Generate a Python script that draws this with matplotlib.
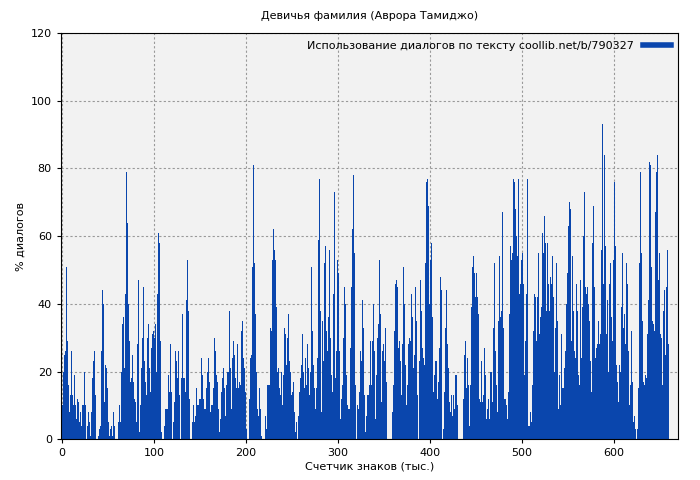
import matplotlib
matplotlib.use('Agg')
import matplotlib.pyplot as plt
import numpy as np

title = 'Девичья фамилия (Аврора Тамиджо)'
x_label = 'Счетчик знаков (тыс.)'
y_label = '% диалогов'
legend_label = 'Использование диалогов по тексту coollib.net/b/790327'
x_max = 660

# % of dialogue per chunk left to right
dialog_pct = [
    10, 20, 25, 26, 51, 29, 16, 8, 13, 26, 13, 10, 19, 10, 6, 12, 11, 5, 8, 4,
    10, 10, 20, 10, 0, 4, 8, 5, 1, 8, 18, 23, 26, 13, 0, 0, 1, 3, 4, 26,
    44, 40, 11, 22, 21, 15, 5, 1, 3, 4, 1, 8, 4, 0, 0, 0, 5, 10, 5, 20,
    34, 36, 21, 43, 79, 64, 40, 29, 17, 18, 25, 17, 12, 11, 5, 28, 47, 2, 10, 21,
    30, 45, 23, 17, 13, 30, 34, 21, 14, 27, 31, 32, 30, 34, 20, 43, 61, 58, 29, 2,
    0, 0, 4, 9,
    9, 9, 19, 14, 28, 14, 0, 5, 11, 13, 26, 23, 18, 26, 13, 0, 18, 37, 18, 18,
    14, 41, 53, 38, 12, 0, 0, 5, 10, 5, 7, 15, 10, 10, 12, 12, 24, 19, 12, 9,
    9, 15, 20, 24, 17, 8, 10, 10, 15, 30, 26, 19, 17, 9, 2, 6, 14, 18, 21, 15,
    7, 16, 20, 20, 38, 21, 9, 24, 29, 25, 18, 15, 28, 15, 17, 16, 32, 35, 24, 21,
    14, 3, 0, 0, 12, 24, 25, 51, 81, 52, 37, 20, 9, 7, 15, 9, 1, 0, 0, 0,
    7, 3, 16, 16,
    16, 33, 32, 53, 62, 56, 53, 39, 20, 21, 15, 13, 20, 10, 19, 33, 31, 22, 30, 37,
    23, 20, 13, 14, 17, 8, 2, 5, 0, 7, 14, 18, 22, 31, 20, 15, 24, 16, 28, 21,
    13, 20, 51, 32, 22, 15, 9, 15, 24, 59, 77, 38, 8, 35, 23, 52, 57, 32, 26, 36,
    56, 30, 19, 14, 43, 73, 18, 26, 53, 49, 26, 6, 12, 16, 30, 45, 40, 19, 10, 9,
    9, 27, 45, 62, 78, 55, 16, 0, 10, 9, 14, 26, 23, 41, 33, 13, 2, 7, 13, 13,
    16, 29,
    16, 29, 40, 26, 6, 19, 30, 34, 53, 37, 11, 26, 28, 23, 33, 17, 0, 0, 0, 0,
    0, 8, 16, 32, 46, 47, 45, 27, 29, 23, 13, 28, 51, 40, 22, 10, 16, 28, 30, 29,
    43, 36, 21, 25, 45, 35, 13, 0, 23, 47, 38, 27, 24, 22, 52, 76, 77, 69, 40, 53,
    58, 36, 14, 19, 23, 23, 12, 17, 27, 48, 44, 0, 3, 14, 33, 44, 28, 21, 11, 8,
    13, 7, 13, 9, 19, 19, 10, 0, 0, 0, 0, 0, 12, 25, 29, 15, 24, 16, 4, 16,
    39, 51, 54, 49, 42,
    49, 42, 37, 12, 11, 23, 11, 13, 27, 19, 6, 9, 12, 6, 20, 20, 11, 33, 52, 26,
    16, 8, 35, 54, 36, 38, 67, 33, 12, 12, 10, 6, 14, 37, 57, 53, 55, 77, 76, 68,
    60, 54, 77, 43, 46, 53, 55, 46, 19, 29, 43, 77, 43, 4, 4, 8, 5, 16, 32, 43,
    42, 29, 42, 55, 31, 36, 39, 61, 55, 66, 58, 38, 58, 46, 38, 48, 46, 54, 42, 20,
    33, 52, 35, 9, 19, 10, 31, 15, 15, 21, 26, 40, 49, 63, 70, 68, 29, 54, 38, 26,
    24,
    46, 38, 19, 16, 47, 24, 39, 60, 73, 45, 43, 45, 40, 35, 23, 14, 58, 69, 45, 24,
    27, 28, 35, 28, 31, 56, 93, 46, 84, 57, 31, 41, 20, 46, 52, 36, 29, 53, 76, 57,
    22, 17, 11, 22, 20, 39, 55, 33, 37, 28, 52, 46, 26, 10, 16, 32, 17, 5, 7, 3,
    0, 3, 15, 52, 79, 55, 35, 17, 16, 19, 18, 31, 41, 82, 81, 51, 35, 34, 32, 67,
    79, 84, 47, 55, 31, 30, 16, 38, 44, 25, 45, 56, 28,
]

n = len(dialog_pct)
step = x_max / n
x = np.arange(n) * step + step / 2

fig = plt.figure(figsize=(7, 4.8), dpi=100)
ax = fig.add_axes([0.087, 0.085, 0.882, 0.846])
ax.set_facecolor('#f2f2f2')
ax.bar(x, dialog_pct, width=step, color='#0a46ad', linewidth=0, label=legend_label, zorder=2)

ax.set_xlim(-1, 670)
ax.set_ylim(0, 120)
ax.set_xticks(range(0, 601, 100))
ax.set_yticks(range(0, 121, 20))
ax.tick_params(labelsize=8, length=3)
ax.grid(True, color='#999999', linestyle=(0, (2, 2)), linewidth=0.8, zorder=1)
ax.set_axisbelow(True)

ax.set_title(title, fontsize=8, pad=10)
ax.set_xlabel(x_label, fontsize=8, labelpad=2)
ax.set_ylabel(y_label, fontsize=8)

h = [plt.Line2D([], [], color='#0a46ad', linewidth=4)]
ax.legend(h, [legend_label], loc='upper right', frameon=False, fontsize=8,
          markerfirst=False, handlelength=2.5, borderaxespad=0.3)

fig.savefig('out.png', dpi=100, facecolor='white')
